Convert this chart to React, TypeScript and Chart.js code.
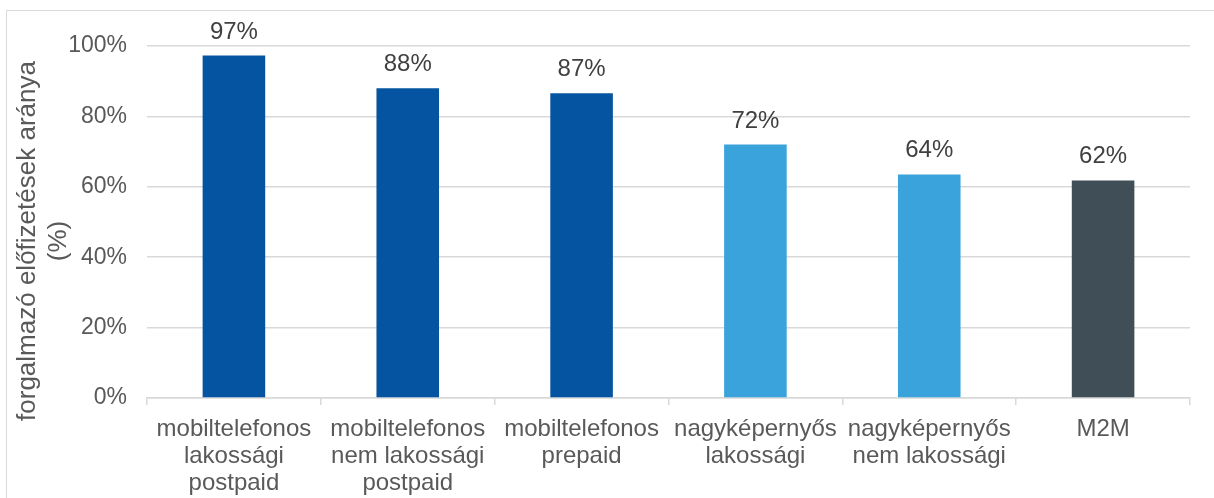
import React, { useEffect, useRef } from "react";
import { Chart, registerables } from "chart.js";

Chart.register(...registerables);

const categories: string[][] = [
  ["mobiltelefonos", "lakossági", "postpaid"],
  ["mobiltelefonos", "nem lakossági", "postpaid"],
  ["mobiltelefonos", "prepaid"],
  ["nagyképernyős", "lakossági"],
  ["nagyképernyős", "nem lakossági"],
  ["M2M"],
];
const values: number[] = [97.3, 88, 86.6, 72, 63.5, 61.8];
const valueLabels: string[] = ["97%", "88%", "87%", "72%", "64%", "62%"];
const barColors: string[] = ["#0554A2", "#0554A2", "#0554A2", "#3BA3DC", "#3BA3DC", "#404E58"];
const yTitle: string[] = ["forgalmazó előfizetések aránya", "(%)"];

const FONT = "'Liberation Sans', Arial, sans-serif";

const labelPlugin = {
  id: "valueLabels",
  afterDatasetsDraw(chart: any) {
    const ctx = chart.ctx;
    const meta = chart.getDatasetMeta(0);
    ctx.save();
    ctx.font = `24px ${FONT}`;
    ctx.fillStyle = "#404040";
    ctx.textAlign = "center";
    ctx.textBaseline = "alphabetic";
    meta.data.forEach((bar: any, i: number) => {
      ctx.fillText(valueLabels[i], bar.x, bar.y - 17);
    });
    ctx.restore();
  },
};

const titlePlugin = {
  id: "yTitle",
  afterDraw(chart: any) {
    const ctx = chart.ctx;
    ctx.save();
    ctx.font = `26px ${FONT}`;
    ctx.fillStyle = "#595959";
    ctx.textAlign = "center";
    ctx.textBaseline = "middle";
    const cy = 241;
    yTitle.forEach((line, i) => {
      ctx.save();
      ctx.translate(28 + i * 31, cy);
      ctx.rotate(-Math.PI / 2);
      ctx.fillText(line, 0, 0);
      ctx.restore();
    });
    ctx.restore();
  },
};

export default function App() {
  const ref = useRef<HTMLCanvasElement | null>(null);
  useEffect(() => {
    if (!ref.current) return;
    const chart = new Chart(ref.current, {
      type: "bar",
      data: {
        labels: categories,
        datasets: [
          {
            data: values,
            backgroundColor: barColors,
            categoryPercentage: 1,
            barPercentage: 0.36,
          },
        ],
      },
      options: {
        animation: false,
        responsive: false,
        maintainAspectRatio: false,
        layout: { padding: { top: 46, right: 24, left: 0, bottom: 0 } },
        plugins: { legend: { display: false }, tooltip: { enabled: false } },
        scales: {
          x: {
            grid: {
              display: true,
              drawOnChartArea: false,
              offset: true,
              tickLength: 7,
              color: "#D9D9D9",
              lineWidth: 1.5,
            },
            border: { display: true, color: "#D9D9D9", width: 1.5 },
            ticks: {
              font: { family: FONT, size: 24, lineHeight: "27px" },
              color: "#595959",
              padding: 11,
              maxRotation: 0,
              autoSkip: false,
            },
            afterFit(scale: any) {
              scale.height = 100;
            },
          },
          y: {
            min: 0,
            max: 100,
            grid: { color: "#D9D9D9", lineWidth: 1.5, drawTicks: false },
            border: { display: false },
            ticks: {
              stepSize: 20,
              font: { family: FONT, size: 23 },
              color: "#595959",
              padding: 20,
              callback: (v: any) => `${v}%`,
            },
            afterFit(scale: any) {
              scale.width = 147;
            },
          },
        },
      },
      plugins: [labelPlugin, titlePlugin],
    });
    return () => chart.destroy();
  }, []);

  return (
    <div style={{ position: "absolute", left: 0, top: 0, width: 1214, height: 498, overflow: "hidden", background: "#fff" }}>
      <div
        style={{
          position: "absolute",
          left: 6,
          top: 10,
          width: 1230,
          height: 520,
          border: "1.5px solid #D9D9D9",
          boxSizing: "border-box",
        }}
      />
      <canvas ref={ref} width={1214} height={498} style={{ position: "absolute", left: 0, top: 0, width: 1214, height: 498 }} />
    </div>
  );
}
